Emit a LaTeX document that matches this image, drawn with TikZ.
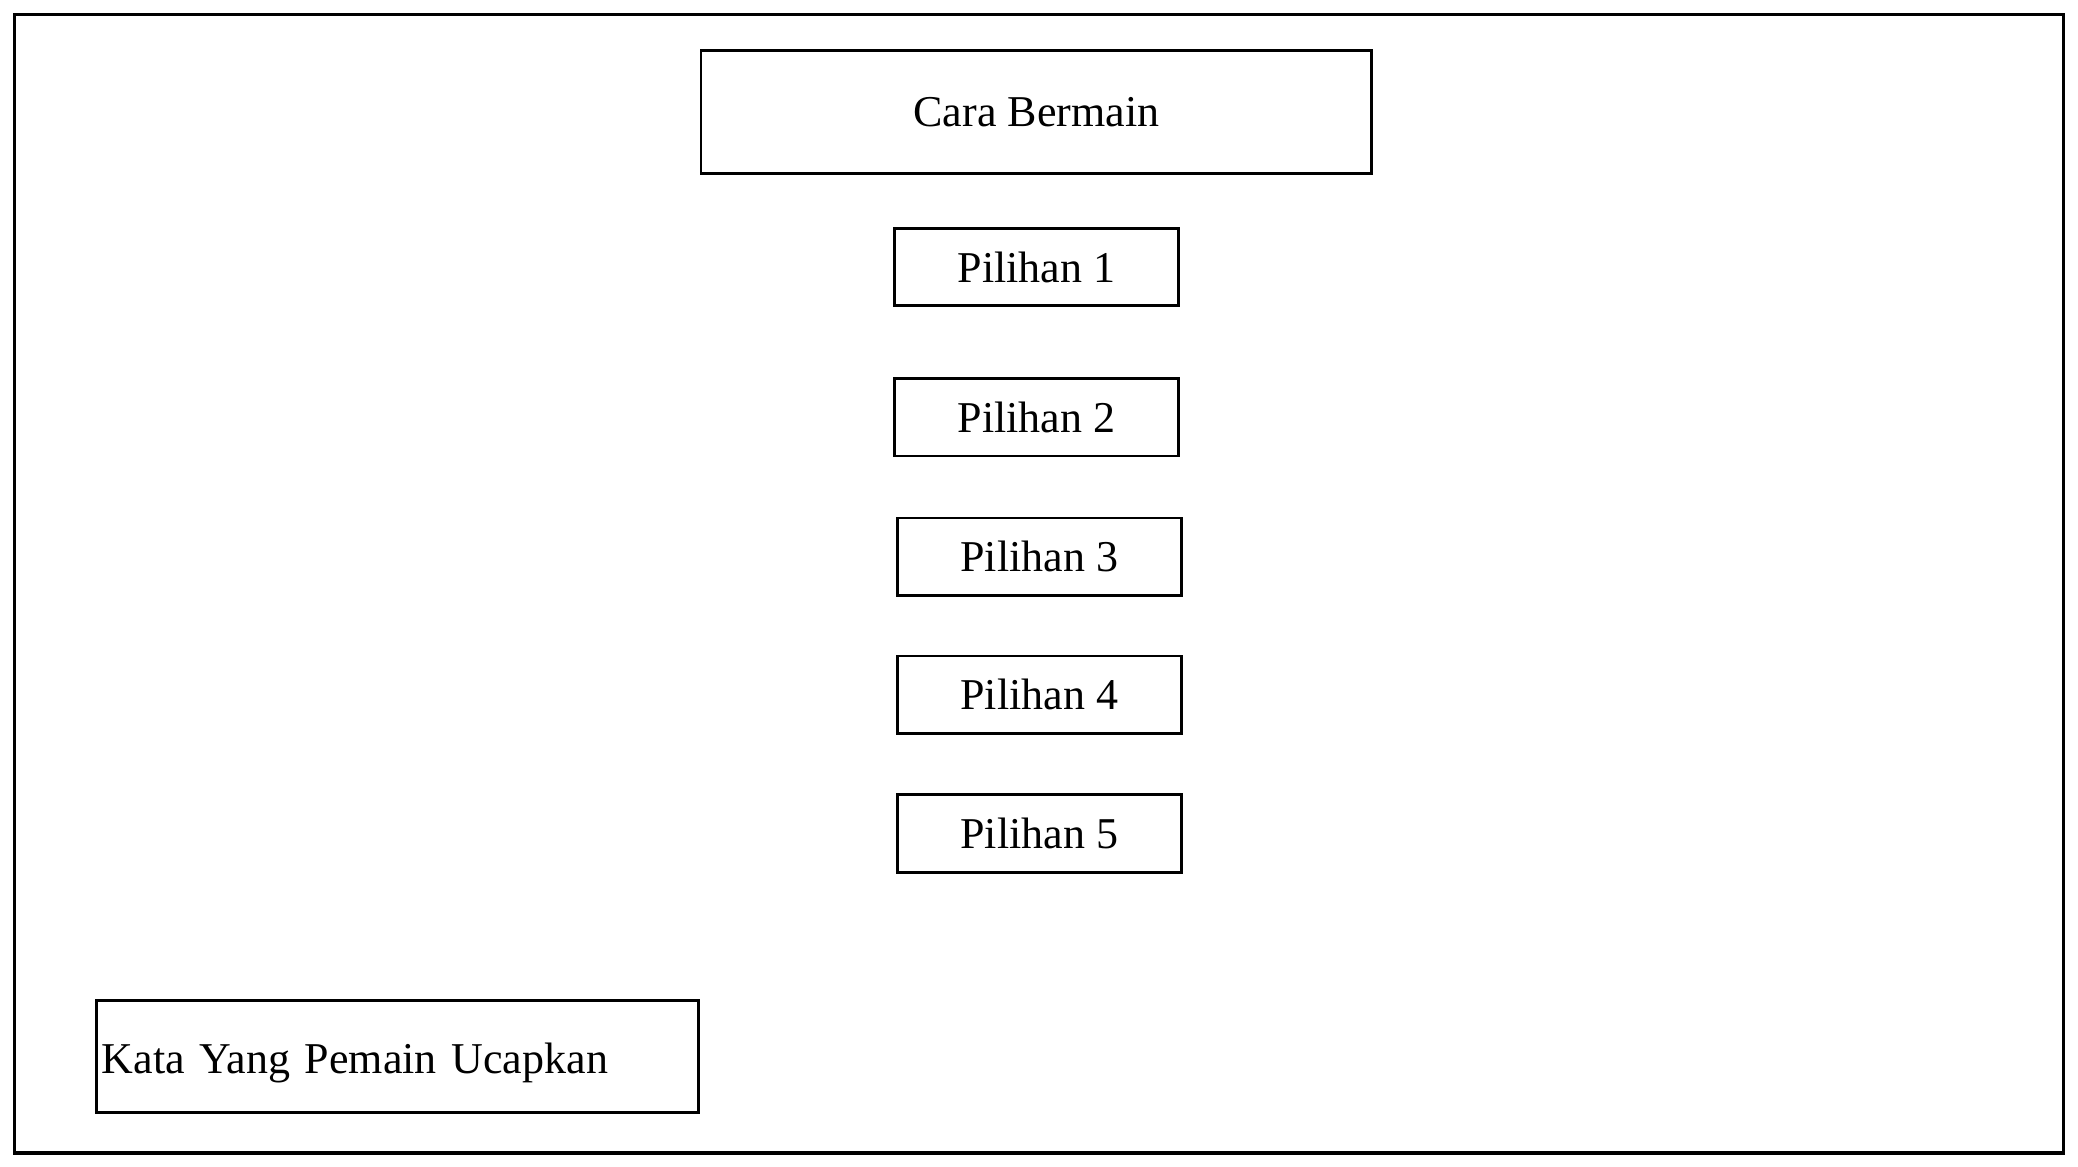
\documentclass[tikz,border=0pt]{standalone}
\usepackage{fontspec}
\setmainfont{Liberation Serif}
\begin{document}
\begin{tikzpicture}[x=0.25pt,y=-0.25pt,
  frame/.style={draw=black,line width=0.8pt},
  box/.style={draw=black,line width=0.7pt,inner sep=0pt,font=\fontsize{11}{13}\selectfont},
  opt/.style={box,minimum width=71pt,minimum height=19.4pt}]
\useasboundingbox (0,0) rectangle (2078,1167);
\draw[frame] (14.6,14.6) rectangle (2063.5,1153);
\node[box,minimum width=167.7pt,minimum height=30.8pt] (cara) at (1036.4,112) {Cara Bermain};
\node[opt] (p1) at (1036.4,267) {Pilihan 1};
\node[opt] (p2) at (1036.4,417.2) {Pilihan 2};
\node[opt] (p3) at (1039.3,556.7) {Pilihan 3};
\node[opt] (p4) at (1039.3,694.7) {Pilihan 4};
\node[opt] (p5) at (1039.3,833.5) {Pilihan 5};
\node[box,minimum height=27.9pt,text width=147.9pt,inner xsep=1.25pt,align=left] (kata) at (397.5,1056.3) {\raisebox{-1.6pt}[\height][\depth]{Kata Yang Pemain Ucapkan}};
\end{tikzpicture}
\end{document}
